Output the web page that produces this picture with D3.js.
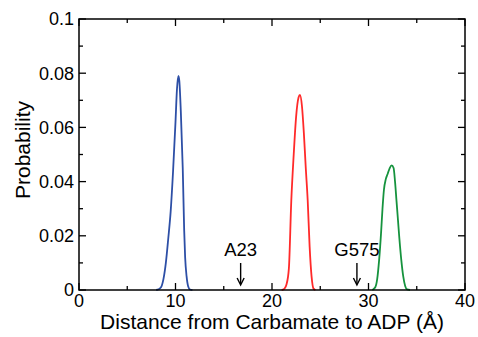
<!DOCTYPE html>
<html><head><meta charset="utf-8">
<script src="https://cdn.jsdelivr.net/npm/d3@7"></script>
<style>body{margin:0;background:#fff}svg{display:block}text{font-family:"Liberation Sans",Arial,Helvetica,sans-serif;fill:#000}</style>
</head><body><div id="chart"></div>
<script>
const blueX = [8.0,8.25,8.5,8.75,9.0,9.25,9.5,9.75,10.0,10.15,10.3,10.4,10.55,10.75,10.9,11.0,11.15,11.3,11.5,11.75];
const blueY = [0,0.0003,0.001,0.004,0.01,0.019,0.029,0.044,0.062,0.074,0.079,0.077,0.066,0.045,0.022,0.012,0.005,0.0015,0.0002,0];
const redX = [21.0,21.3,21.5,21.75,22.0,22.25,22.5,22.75,22.9,23.1,23.3,23.5,23.7,23.9,24.1,24.3,24.5];
const redY = [0,0.0005,0.002,0.008,0.033,0.05,0.064,0.071,0.072,0.068,0.058,0.045,0.033,0.016,0.005,0.0005,0];
const greenX = [30.4,30.7,30.9,31.1,31.3,31.45,31.6,31.8,32.0,32.2,32.4,32.6,32.75,32.9,33.05,33.2,33.4,33.6,33.8,34.0,34.3];
const greenY = [0,0.001,0.004,0.011,0.021,0.030,0.037,0.041,0.043,0.045,0.046,0.045,0.040,0.033,0.026,0.019,0.011,0.005,0.0015,0.0002,0];
const xTicks = [0,10,20,30,40];
const xMinor = [5,15,25,35];
const yTicks = [0,0.02,0.04,0.06,0.08,0.1];
const yTickLabels = ["0","0.02","0.04","0.06","0.08","0.1"];
const yMinor = [0.01,0.03,0.05,0.07,0.09];
const annotations = [{label:"A23", x:16.75}, {label:"G575", x:28.8}];
const xTitle = "Distance from Carbamate to ADP (Å)";
const yTitle = "Probability";

const W=478,H=337, L=79,R=465,T=19,B=290;
const svg=d3.select("#chart").append("svg").attr("width",W).attr("height",H);
const x=d3.scaleLinear().domain([0,40]).range([L,R]);
const y=d3.scaleLinear().domain([0,0.1]).range([B,T]);

const series=[{xs:blueX,ys:blueY,c:"#2d4fa6"},{xs:redX,ys:redY,c:"#ff2a2a"},{xs:greenX,ys:greenY,c:"#16933e"}];
const line=d3.line().x(d=>x(d[0])).y(d=>y(d[1])).curve(d3.curveMonotoneX);
series.forEach(s=>{
  svg.append("path").datum(s.xs.map((v,i)=>[v,s.ys[i]])).attr("d",line)
    .attr("fill","none").attr("stroke",s.c).attr("stroke-width",1.8);
});

// frame
svg.append("rect").attr("x",L).attr("y",T).attr("width",R-L).attr("height",B-T)
  .attr("fill","none").attr("stroke","#000").attr("stroke-width",1.5);

const tk=svg.append("g").attr("stroke","#000").attr("stroke-width",1.3);
const maj=7, mnr=4;
xTicks.concat(xMinor).forEach(v=>{
  const len=xTicks.includes(v)?maj:mnr;
  tk.append("line").attr("x1",x(v)).attr("x2",x(v)).attr("y1",B).attr("y2",B-len);
  tk.append("line").attr("x1",x(v)).attr("x2",x(v)).attr("y1",T).attr("y2",T+len);
});
yTicks.concat(yMinor).forEach(v=>{
  const len=yTicks.includes(v)?maj:mnr;
  tk.append("line").attr("y1",y(v)).attr("y2",y(v)).attr("x1",L).attr("x2",L+len);
  tk.append("line").attr("y1",y(v)).attr("y2",y(v)).attr("x1",R).attr("x2",R-len);
});

xTicks.forEach(v=>{
  svg.append("text").attr("x",x(v)).attr("y",307).attr("text-anchor","middle")
    .attr("font-size",18).text(v);
});
yTicks.forEach((v,i)=>{
  svg.append("text").attr("x",L-5).attr("y",y(v)).attr("dy","0.35em").attr("text-anchor","end")
    .attr("font-size",18).text(yTickLabels[i]);
});

annotations.forEach(a=>{
  const xp=x(a.x);
  svg.append("text").attr("x",xp).attr("y",256).attr("text-anchor","middle").attr("font-size",18.5).text(a.label);
  svg.append("line").attr("x1",xp).attr("x2",xp).attr("y1",263).attr("y2",284).attr("stroke","#000").attr("stroke-width",1.4);
  svg.append("path").attr("d",`M${xp-3.5},${278}L${xp},${285}L${xp+3.5},${278}`).attr("fill","none").attr("stroke","#000").attr("stroke-width",1.4);
});

svg.append("text").attr("x",(L+R)/2).attr("y",329).attr("text-anchor","middle").attr("font-size",21).text(xTitle);
svg.append("text").attr("transform",`translate(30,150) rotate(-90)`).attr("text-anchor","middle").attr("font-size",21).text(yTitle);
</script></body></html>
